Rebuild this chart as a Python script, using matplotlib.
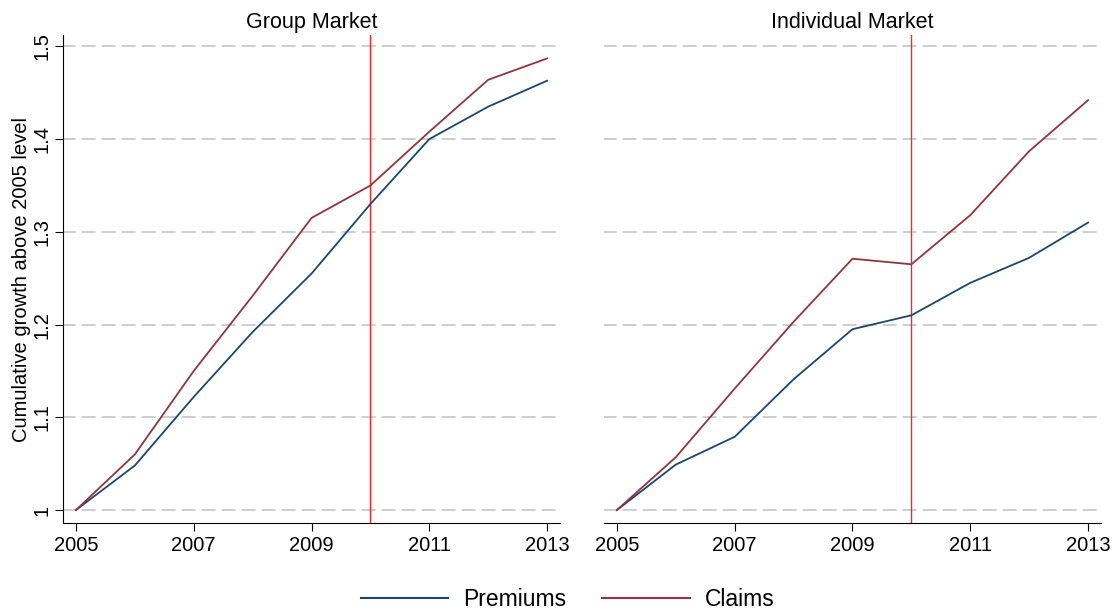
import matplotlib
matplotlib.use("Agg")
import matplotlib.pyplot as plt
from matplotlib.lines import Line2D

plt.rcParams['font.family'] = ['Liberation Sans', 'DejaVu Sans']
plt.rcParams['lines.scale_dashes'] = False

years = [2005, 2006, 2007, 2008, 2009, 2010, 2011, 2012, 2013]
group_premiums = [1.000, 1.048, 1.122, 1.192, 1.255, 1.330, 1.400, 1.435, 1.463]
group_claims = [1.000, 1.060, 1.150, 1.231, 1.315, 1.350, 1.408, 1.464, 1.487]
indiv_premiums = [1.000, 1.049, 1.079, 1.141, 1.195, 1.210, 1.245, 1.272, 1.310]
indiv_claims = [1.000, 1.057, 1.131, 1.203, 1.271, 1.265, 1.318, 1.387, 1.442]
panel_titles = ["Group Market", "Individual Market"]
series_labels = ["Premiums", "Claims"]
yticks = [1.0, 1.1, 1.2, 1.3, 1.4, 1.5]
ytick_labels = ["1", "1.1", "1.2", "1.3", "1.4", "1.5"]
xticks = [2005, 2007, 2009, 2011, 2013]
policy_year = 2010

navy = "#1a476f"
maroon = "#90353b"

fig = plt.figure(figsize=(11.17, 6.12), dpi=100)
ax1 = fig.add_axes([0.0564, 0.1454, 0.445, 0.797])
ax2 = fig.add_axes([0.5407, 0.1454, 0.445, 0.797])

panels = [(ax1, group_premiums, group_claims), (ax2, indiv_premiums, indiv_claims)]
for i, (ax, prem, clm) in enumerate(panels):
    for y in yticks:
        ax.axhline(y, color="#c6c6c6", lw=1.2, ls=(1, (10.1, 4.3)), zorder=1)
    ax.axvline(policy_year, color="#ff2020", lw=1.0, zorder=2)
    ax.plot(years, prem, color=navy, lw=1.3, zorder=3)
    ax.plot(years, clm, color=maroon, lw=1.3, zorder=3)
    ax.set_ylim(0.986, 1.512)
    ax.set_xlim(2004.78, 2013.22)
    ax.set_xticks(xticks)
    ax.set_xticklabels([str(x) for x in xticks], fontsize=14.5)
    ax.set_title(panel_titles[i], fontsize=15.5, pad=5)
    ax.spines['top'].set_visible(False)
    ax.spines['right'].set_visible(False)
    ax.tick_params(axis='x', direction='out', length=6, width=0.8, pad=3)
    ax.set_facecolor("white")

ax1.set_yticks(yticks)
ax1.set_yticklabels(ytick_labels, fontsize=14.5, rotation=90, va='center')
ax1.tick_params(axis='y', direction='out', length=6, width=0.8, pad=2.5)
ax1.set_ylabel("Cumulative growth above 2005 level", fontsize=14.5, labelpad=1)

ax2.spines['left'].set_visible(False)
ax2.set_yticks([])

handles = [Line2D([0], [0], color=navy, lw=1.5),
           Line2D([0], [0], color=maroon, lw=1.5)]
fig.legend(handles, series_labels, loc='lower center', ncol=2, frameon=False,
           fontsize=16.5, bbox_to_anchor=(0.508, -0.032), handlelength=3.8,
           columnspacing=1.6, handletextpad=0.65)

fig.savefig("out.png", dpi=100, facecolor="white")
